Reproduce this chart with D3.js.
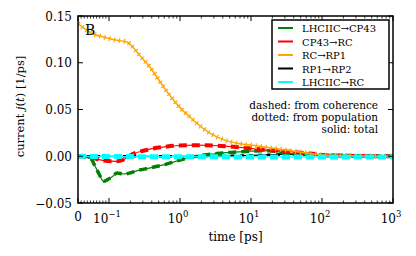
<!DOCTYPE html>
<html>
<head>
<meta charset="utf-8">
<script src="https://cdn.jsdelivr.net/npm/d3@7"></script>
<style>
  body { margin: 0; background: #fff; }
</style>
</head>
<body>
<div id="chart"></div>
<script>
// values (time in ps, current in 1/ps)
var orangeT = [0, 0.023, 0.055, 0.077, 0.1, 0.13, 0.18, 0.21, 0.27, 0.38, 0.52, 0.72, 1.0, 1.38, 1.74, 2.6, 4.0, 6.3, 9.7, 18.5, 39, 68, 117, 340, 1000];
var orangeV = [0.142, 0.136, 0.130, 0.128, 0.126, 0.124, 0.122, 0.118, 0.108, 0.095, 0.080, 0.065, 0.052, 0.042, 0.035, 0.025, 0.018, 0.014, 0.012, 0.009, 0.0055, 0.003, 0.001, 0.0003, 0.0];

var redT = [0, 0.04, 0.08, 0.13, 0.16, 0.21, 0.35, 0.6, 1.0, 1.7, 2.9, 5.0, 8.6, 14, 39, 68, 117, 1000];
var redV = [0, -0.001, -0.0045, -0.0054, -0.0036, 0.0018, 0.007, 0.010, 0.0115, 0.0118, 0.0115, 0.0104, 0.0089, 0.0072, 0.0046, 0.0029, 0.0008, 0.0];

var greenT = [0, 0.033, 0.044, 0.052, 0.068, 0.082, 0.095, 0.113, 0.13, 0.16, 0.2, 0.25, 0.38, 0.66, 1.13, 1.95, 3.3, 5.7, 9.7, 18.5, 32, 68, 1000];
var greenV = [0, -0.0018, -0.0036, -0.0086, -0.019, -0.0268, -0.025, -0.0214, -0.0178, -0.019, -0.0178, -0.0153, -0.0125, -0.0082, -0.0029, 0.0007, 0.0029, 0.0043, 0.0054, 0.006, 0.003, 0.0018, 0.0];

var blackT = [0, 1, 10, 30, 100, 1000];
var blackV = [0, 0, 0.001, 0.002, 0.0015, 0.0005];

var cyanT = [0, 0.1, 1, 10, 100, 1000];
var cyanV = [0, -0.0003, -0.0005, -0.0007, -0.0007, -0.0007];

var legendNames = ["LHCIIC\u2192CP43", "CP43\u2192RC", "RC\u2192RP1", "RP1\u2192RP2", "LHCIIC\u2192RC"];
var legendColors = ["#008000", "#ff0000", "#ffa500", "#000000", "#00ffff"];
var yTicks = [-0.05, 0, 0.05, 0.10, 0.15];
var xTickPowers = [-1, 0, 1, 2, 3];
var notes = ["dashed: from coherence", "dotted: from population", "solid: total"];

var W = 416, H = 256;
var pL = 78, pR = 393, pT = 16, pB = 203;

var svg = d3.select("#chart").append("svg").attr("width", W).attr("height", H)
  .attr("font-family", "'DejaVu Serif', serif");

// symlog-like axis: linear from 0 to 0.1, log above
var xLin = d3.scaleLinear().domain([0, 0.1]).range([pL, 109]);
var xLog = d3.scaleLog().domain([0.1, 1000]).range([109, pR]);
function x(t) { return t < 0.1 ? xLin(t) : xLog(t); }
var y = d3.scaleLinear().domain([-0.05, 0.15]).range([pB, pT]);

var line = d3.line().x(d => x(d[0])).y(d => y(d[1])).curve(d3.curveMonotoneX);
function pts(ts, vs) { return ts.map((t, i) => [t, vs[i]]); }

var plot = svg.append("g");
plot.append("clipPath").attr("id", "clip").append("rect")
  .attr("x", pL).attr("y", pT).attr("width", pR - pL).attr("height", pB - pT);
var g = plot.append("g").attr("clip-path", "url(#clip)");

function drawSeries(data, color, dash, w) {
  g.append("path").datum(data).attr("d", line)
    .attr("fill", "none").attr("stroke", color).attr("stroke-width", 1.2);
  g.append("path").datum(data).attr("d", line)
    .attr("fill", "none").attr("stroke", color).attr("stroke-width", w)
    .attr("stroke-dasharray", dash);
}
drawSeries(pts(blackT, blackV), "#000", "4,5", 2.5);
drawSeries(pts(greenT, greenV), "#008000", "8,5", 3.5);
drawSeries(pts(redT, redV), "#ff0000", "8,5", 4);
// orange: solid + thick dotted (looks like crosses)
var oData = pts(orangeT, orangeV);
g.append("path").datum(oData).attr("d", line)
  .attr("fill", "none").attr("stroke", "#ffa500").attr("stroke-width", 1.5);
g.append("path").datum(oData).attr("d", line)
  .attr("fill", "none").attr("stroke", "#ffa500").attr("stroke-width", 5)
  .attr("stroke-dasharray", "1.2,3.8");
drawSeries(pts(cyanT, cyanV), "#00ffff", "8,4", 5);

// frame
svg.append("rect").attr("x", pL).attr("y", pT).attr("width", pR - pL).attr("height", pB - pT)
  .attr("fill", "none").attr("stroke", "#000").attr("stroke-width", 1.5);

// y ticks (inward, both sides)
yTicks.forEach(function(v) {
  svg.append("line").attr("x1", pL).attr("x2", pL + 5).attr("y1", y(v)).attr("y2", y(v)).attr("stroke", "#000");
  svg.append("line").attr("x1", pR - 5).attr("x2", pR).attr("y1", y(v)).attr("y2", y(v)).attr("stroke", "#000");
  svg.append("text").attr("x", 72).attr("y", y(v) + 4.5).attr("text-anchor", "end")
    .attr("font-size", 12).text(v < 0 ? "\u2212" + d3.format(".2f")(-v) : d3.format(".2f")(v));
});

// x ticks
var majors = [0].concat(xTickPowers.map(p => Math.pow(10, p)));
var minors = d3.range(1, 10).map(i => i * 0.01);
xTickPowers.slice(0, -1).forEach(function(p) {
  for (var k = 2; k < 10; k++) minors.push(k * Math.pow(10, p));
});
majors.forEach(function(t) {
  svg.append("line").attr("x1", x(t)).attr("x2", x(t)).attr("y1", pB).attr("y2", pB - 5).attr("stroke", "#000");
  svg.append("line").attr("x1", x(t)).attr("x2", x(t)).attr("y1", pT).attr("y2", pT + 5).attr("stroke", "#000");
});
minors.forEach(function(t) {
  svg.append("line").attr("x1", x(t)).attr("x2", x(t)).attr("y1", pB).attr("y2", pB - 2.5).attr("stroke", "#000").attr("stroke-width", 0.8);
  svg.append("line").attr("x1", x(t)).attr("x2", x(t)).attr("y1", pT).attr("y2", pT + 2.5).attr("stroke", "#000").attr("stroke-width", 0.8);
});
svg.append("text").attr("x", x(0)).attr("y", 221).attr("text-anchor", "middle").attr("font-size", 12).text("0");
xTickPowers.forEach(function(p) {
  var t = svg.append("text").attr("x", x(Math.pow(10, p)) - 2).attr("y", 223).attr("text-anchor", "middle").attr("font-size", 12);
  t.append("tspan").text("10");
  t.append("tspan").attr("dy", -6).attr("font-size", 8.5).text(p < 0 ? "\u2212" + (-p) : p);
});

// axis labels
svg.append("text").attr("x", (pL + pR) / 2).attr("y", 241).attr("text-anchor", "middle")
  .attr("font-size", 12).text("time [ps]");
var yl = svg.append("text").attr("transform", "translate(24," + ((pT + pB) / 2 - 3) + ") rotate(-90)")
  .attr("text-anchor", "middle").attr("font-size", 11.5);
yl.append("tspan").text("current ");
yl.append("tspan").attr("font-style", "italic").text("j");
yl.append("tspan").text("(");
yl.append("tspan").attr("font-style", "italic").text("t");
yl.append("tspan").text(") [1/ps]");

// panel letter
svg.append("text").attr("x", 85).attr("y", 35).attr("font-size", 14).text("B");

// legend
var lg = svg.append("g");
lg.append("rect").attr("x", 272).attr("y", 20).attr("width", 117).attr("height", 69)
  .attr("fill", "#fff").attr("stroke", "#000").attr("stroke-width", 1.5);
legendNames.forEach(function(n, i) {
  var yy = 28 + i * 13.5;
  lg.append("line").attr("x1", 278).attr("x2", 293).attr("y1", yy).attr("y2", yy)
    .attr("stroke", legendColors[i]).attr("stroke-width", 2);
  lg.append("text").attr("x", 302).attr("y", yy + 4).attr("font-size", 10).text(n);
});

// notes
notes.forEach(function(s, i) {
  svg.append("text").attr("x", 378).attr("y", 109 + i * 12).attr("text-anchor", "end")
    .attr("font-size", 10.5).text(s);
});
</script>
</body>
</html>
